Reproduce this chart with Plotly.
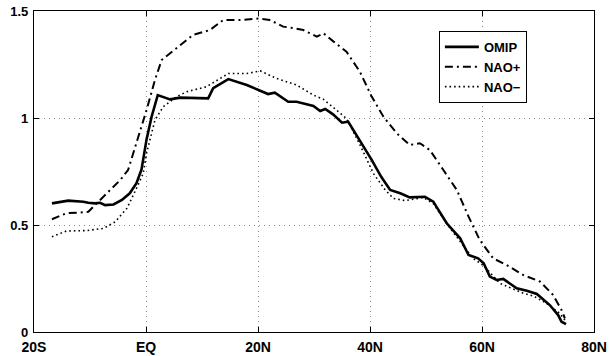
import plotly.graph_objects as go

# Latitude (deg, negative = S) and values for each series
omip_x = [-16.8,-13.9,-11.2,-10.3,-9.1,-8.2,-7.3,-5.8,-4.3,-2.9,-1.7,-0.8,0.1,1.0,2.1,4.3,6.1,9.6,11.1,12.0,
          14.7,18.0,20.1,21.8,23.0,25.4,26.9,29.9,31.1,32.0,33.4,35.0,36.1,38.5,40.3,42.0,43.6,45.4,47.1,49.8,
          51.3,53.7,56.1,57.6,59.3,60.3,61.4,62.6,63.8,66.2,68.0,69.8,72.1,73.6,74.2,75.0]
omip_y = [0.601,0.614,0.609,0.604,0.601,0.604,0.593,0.596,0.617,0.648,0.695,0.76,0.90,1.006,1.107,1.087,1.095,1.092,1.092,1.139,
          1.182,1.154,1.131,1.112,1.118,1.076,1.076,1.056,1.033,1.042,1.017,0.978,0.983,0.882,0.804,0.725,0.664,0.648,0.629,0.632,
          0.609,0.508,0.438,0.360,0.344,0.321,0.259,0.243,0.248,0.204,0.193,0.178,0.126,0.079,0.048,0.037]

naop_x = [-16.8,-14.2,-11.8,-10.3,-8.5,-6.4,-4.6,-3.2,-1.7,0.1,1.6,2.8,6.1,8.4,11.4,13.8,16.8,20.1,22.1,24.5,
          26.6,28.1,30.5,31.7,33.5,35.8,38.2,40.3,42.4,44.8,47.1,48.9,50.7,53.1,55.5,57.6,59.6,62.0,64.4,67.4,
          70.4,72.7,74.2,74.8]
naop_y = [0.527,0.555,0.558,0.562,0.609,0.664,0.710,0.757,0.882,1.037,1.178,1.271,1.34,1.388,1.411,1.458,1.458,1.465,1.458,1.427,
          1.419,1.411,1.380,1.396,1.357,1.310,1.216,1.100,1.006,0.928,0.874,0.882,0.850,0.757,0.664,0.539,0.430,0.344,0.313,0.266,
          0.235,0.173,0.103,0.064]

naom_x = [-16.8,-14.2,-10.6,-7.6,-5.5,-3.4,-1.7,-0.5,0.1,1.6,3.1,5.5,7.3,9.6,10.8,14.7,18.0,20.4,23.3,26.9,
          29.9,31.7,34.1,35.8,38.3,40.6,42.7,44.2,46.3,49.5,51.3,54.3,58.4,60.3,63.2,67.4,69.2,71.5,73.9,74.8]
naom_y = [0.445,0.472,0.474,0.484,0.515,0.578,0.671,0.741,0.835,0.991,1.053,1.100,1.123,1.139,1.146,1.208,1.208,1.220,1.185,1.154,
          1.107,1.087,1.037,0.998,0.87,0.741,0.664,0.624,0.614,0.629,0.600,0.485,0.344,0.31,0.227,0.181,0.168,0.134,0.087,0.056]

x_tickvals = [-20, 0, 20, 40, 60, 80]
x_ticktext = ["20S", "EQ", "20N", "40N", "60N", "80N"]
y_tickvals = [0, 0.5, 1, 1.5]
y_ticktext = ["0", "0.5", "1", "1.5"]

fig = go.Figure()
fig.add_trace(go.Scatter(x=omip_x, y=omip_y, mode="lines", name="OMIP",
                         line=dict(color="black", width=2.6)))
fig.add_trace(go.Scatter(x=naop_x, y=naop_y, mode="lines", name="NAO+",
                         line=dict(color="black", width=2, dash="8px,4px,2px,4px")))
fig.add_trace(go.Scatter(x=naom_x, y=naom_y, mode="lines", name="NAO\u2212",
                         line=dict(color="black", width=1.6, dash="1.6px,3px")))

xfont = dict(family="Liberation Sans, Arial, sans-serif", size=14, color="black", weight="bold")
yfont = dict(family="Liberation Sans, Arial, sans-serif", size=13, color="black", weight="bold")
axis_common = dict(showline=True, linecolor="black", linewidth=1.2, mirror="ticks",
                   ticks="inside", ticklen=5, tickcolor="black",
                   showgrid=True, gridcolor="#888", griddash="1px,4px", gridwidth=1,
                   zeroline=False, automargin=False)

fig.update_xaxes(range=[-20, 80], tickvals=x_tickvals, ticktext=x_ticktext,
                 ticklabelstandoff=2, tickfont=xfont, **axis_common)
fig.update_yaxes(range=[0, 1.5], tickvals=y_tickvals, ticktext=y_ticktext,
                 ticklabelstandoff=2, tickfont=yfont, **axis_common)

fig.update_layout(
    width=609, height=356,
    margin=dict(l=34, r=15, t=11, b=24),
    paper_bgcolor="white", plot_bgcolor="white",
    showlegend=True,
    legend=dict(x=0.723, y=0.938, xanchor="left", yanchor="top",
                bordercolor="black", borderwidth=1, bgcolor="white",
                font=dict(family="Liberation Sans, Arial, sans-serif", size=13, color="black", weight="bold"),
                tracegroupgap=0, itemwidth=34),
)

fig.write_html("out.html")
